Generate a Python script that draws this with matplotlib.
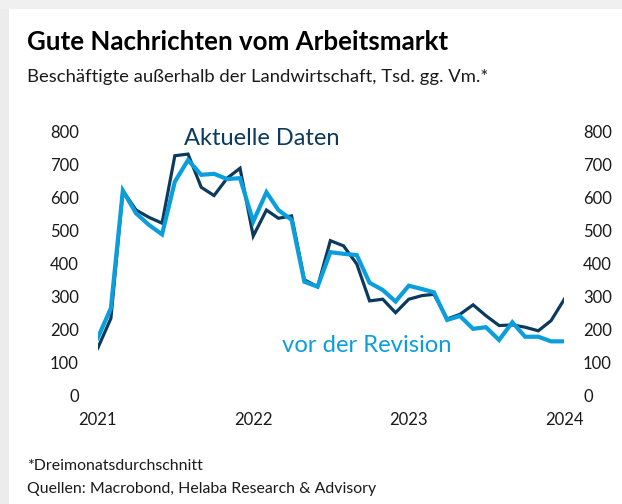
import numpy as np
import pandas as pd
import matplotlib
matplotlib.use("Agg")
import matplotlib.pyplot as plt
import matplotlib.dates as mdates

plt.rcParams['font.family'] = ['Lato', 'DejaVu Sans']

# Monatswerte Jan 2021 - Jan 2024 (Tsd., Dreimonatsdurchschnitt)
months = pd.date_range("2021-01-01", "2024-01-01", freq="MS")
aktuell = [142, 233, 621, 562, 540, 522, 727, 732, 631, 606, 659, 689,
           483, 562, 537, 544, 350, 329, 469, 453, 398, 286, 291, 250,
           291, 302, 306, 231, 245, 274, 241, 211, 213, 206, 195, 226,
           291]
vor_revision = [173, 264, 621, 552, 517, 488, 648, 714, 669, 672, 656, 659,
                527, 616, 562, 532, 344, 329, 434, 429, 425, 341, 319, 284,
                332, 322, 312, 228, 240, 201, 206, 167, 221, 177, 177, 163,
                163]
y_ticks = [0, 100, 200, 300, 400, 500, 600, 700, 800]
year_ticks = pd.to_datetime(["2021-01-01", "2022-01-01", "2023-01-01", "2024-01-01"])

dark = "#0b3a5c"
light = "#0a9edc"
txt = "#1a1a1a"

W, H = 622, 504
fig = plt.figure(figsize=(W / 100, H / 100), dpi=100)

# grauer Rahmen oben/links
fig.patches.append(plt.Rectangle((0, 0), 9 / W, 1, transform=fig.transFigure,
                                 color="#ececec", lw=0, zorder=0))
fig.patches.append(plt.Rectangle((0, 1 - 9 / H), 1, 9 / H, transform=fig.transFigure,
                                 color="#f0f0f0", lw=0, zorder=0))

ax = fig.add_axes([97.7 / W, 1 - 395 / H, (564.3 - 97.7) / W, (395 - 131.7) / H])
ax.patch.set_alpha(0)

ax.plot(months, aktuell, color=dark, lw=2.3, zorder=3, solid_joinstyle="miter")
ax.plot(months, vor_revision, color=light, lw=3.0, zorder=4, solid_joinstyle="miter")

ax.set_xlim(months[0], months[-1])
ax.set_ylim(0, 800)
ax.set_yticks(y_ticks)
ax.set_xticks(year_ticks)
ax.xaxis.set_major_formatter(mdates.DateFormatter("%Y"))

for s in ax.spines.values():
    s.set_visible(False)

ax.tick_params(axis="y", length=0, labelsize=12, colors=txt, pad=13.5,
               labelleft=True, labelright=True)
ax.tick_params(axis="x", length=0, labelsize=12, colors=txt, pad=12)

ax.text(261.5 / W, 1 - 145 / H, "Aktuelle Daten", transform=fig.transFigure,
        ha="center", va="baseline", fontsize=17, color=dark)
ax.text(367 / W, 1 - 351.7 / H, "vor der Revision", transform=fig.transFigure,
        ha="center", va="baseline", fontsize=17.2, color=light)

fig.text(26.7 / W, 1 - 50.5 / H, "Gute Nachrichten vom Arbeitsmarkt",
         fontsize=18.6, fontweight="bold", color="black", va="baseline")
fig.text(26.7 / W, 1 - 82 / H, "Beschäftigte außerhalb der Landwirtschaft, Tsd. gg. Vm.*",
         fontsize=13.3, color=txt, va="baseline")
fig.text(26.7 / W, 1 - 470 / H, "*Dreimonatsdurchschnitt",
         fontsize=11.4, color=txt, va="baseline")
fig.text(26.7 / W, 1 - 493 / H, "Quellen: Macrobond, Helaba Research & Advisory",
         fontsize=11.4, color=txt, va="baseline")

fig.savefig("out.png", dpi=100)
